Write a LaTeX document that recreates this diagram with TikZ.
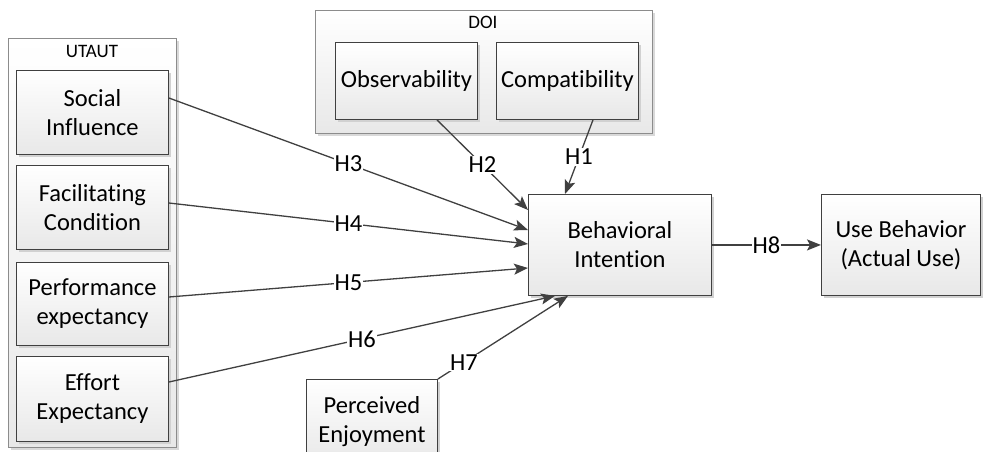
\documentclass[tikz,border=0pt]{standalone}
\usepackage{fontspec}
\setmainfont[RawFeature={-liga;-clig;-calt;-dlig}]{Carlito}
\usetikzlibrary{shadows,arrows.meta,calc}
\definecolor{lineC}{HTML}{404040}
\definecolor{contC}{HTML}{8C8C8C}
\begin{document}
\begin{tikzpicture}[x=1pt,y=-1pt,
  box/.style={draw=lineC, line width=0.9pt, top color=white, bottom color=black!9,
    drop shadow={shadow xshift=3pt, shadow yshift=-3pt, fill=black!18, opacity=1},
    align=center, font=\fontsize{24.5}{29}\selectfont, inner sep=0pt},
  cont/.style={draw=contC, line width=0.8pt, top color=white, bottom color=black!9,
    drop shadow={shadow xshift=3pt, shadow yshift=-3pt, fill=black!15, opacity=1}},
  ttl/.style={font=\fontsize{19}{22}\selectfont, inner sep=0pt},
  conn/.style={draw=lineC, line width=1.3pt, -{Stealth[length=14pt,width=11pt,inset=3pt]}},
  lab/.style={fill=white, inner sep=1pt, font=\fontsize{24.5}{29}\selectfont}]
\useasboundingbox (0,0) rectangle (991,452);
% containers
\node[cont, minimum width=168pt, minimum height=409pt, anchor=north west] (utaut) at (8,38) {};
\node[ttl] (utautt) at (92,51) {UTAUT};
\node[cont, minimum width=337pt, minimum height=123pt, anchor=north west] (doi) at (315,10) {};
\node[ttl] (doit) at (483,22) {DOI};
% UTAUT boxes
\node[box, minimum width=152pt, minimum height=84pt, anchor=north west] (si) at (16,70) {Social\\Influence};
\node[box, minimum width=152pt, minimum height=84pt, anchor=north west] (fc) at (16,165) {Facilitating\\Condition};
\node[box, minimum width=152pt, minimum height=83pt, anchor=north west] (pe) at (16,262) {Performance\\expectancy};
\node[box, minimum width=152pt, minimum height=85pt, anchor=north west] (ee) at (16,356) {Effort\\Expectancy};
% DOI boxes
\node[box, minimum width=142pt, minimum height=77pt, anchor=north west] (obs) at (335,42) {Observability};
\node[box, minimum width=142pt, minimum height=77pt, anchor=north west] (com) at (496,42) {Compatibility};
% others
\node[box, minimum width=183pt, minimum height=101pt, anchor=north west] (bi) at (528,194) {Behavioral\\Intention};
\node[box, minimum width=159pt, minimum height=101pt, anchor=north west] (ub) at (821,194) {Use Behavior\\(Actual Use)};
\node[box, minimum width=131pt, minimum height=84pt, anchor=north west] (pen) at (306,379) {Perceived\\Enjoyment};
% connectors
\draw[conn] ([yshift=-28pt]si.north east) -- node[lab]{H3} ([yshift=-36pt]bi.north west);
\draw[conn] ([yshift=-38pt]fc.north east) -- node[lab]{H4} ([yshift=-50pt]bi.north west);
\draw[conn] ([yshift=-35pt]pe.north east) -- node[lab]{H5} ([yshift=-74pt]bi.north west);
\draw[conn] ([yshift=-26pt]ee.north east) -- node[lab]{H6} ([xshift=27pt]bi.south west);
\draw[conn] (pen.north east) -- node[lab, pos=0.2]{H7} ([xshift=40pt]bi.south west);
\draw[conn] ([xshift=102pt]obs.south west) -- node[lab]{H2} ([yshift=-16pt]bi.north west);
\draw[conn] ([xshift=97pt]com.south west) -- node[lab]{H1} ([xshift=37pt]bi.north west);
\draw[conn] (bi.east) -- node[lab]{H8} (ub.west);
\end{tikzpicture}
\end{document}
